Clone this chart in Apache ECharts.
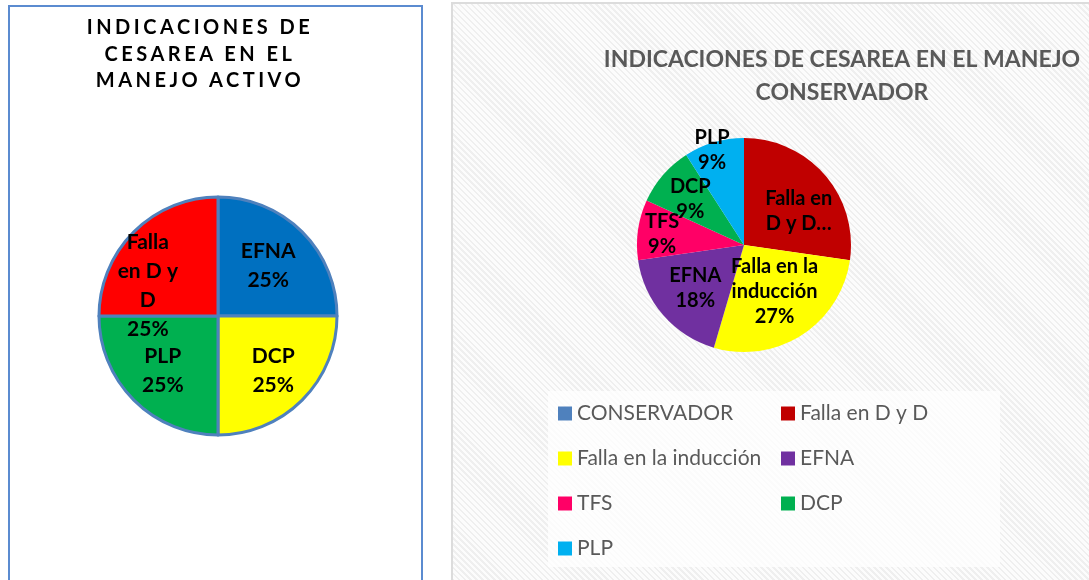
<!DOCTYPE html>
<html>
<head>
<meta charset="utf-8">
<script src="https://cdn.jsdelivr.net/npm/echarts@6/dist/echarts.min.js"></script>
<style>
html, body { margin: 0; padding: 0; background: #fff; }
#wrap { position: relative; width: 1089px; height: 580px; overflow: hidden; }
#panelL { position: absolute; left: 8px; top: 5px; width: 415px; height: 620px; box-sizing: border-box;
  border: 2px solid #5b8bd0; background: #fff; }
#panelR { position: absolute; left: 451px; top: 2px; width: 680px; height: 620px; box-sizing: border-box;
  border: 2px solid #dcdcdc;
  background: repeating-linear-gradient(45deg, #fcfcfc 0px, #fcfcfc 2.5px, #efefef 2.5px, #efefef 4.2px); }
#chartL { position: absolute; left: 0; top: 0; width: 440px; height: 580px; }
#chartR { position: absolute; left: 440px; top: 0; width: 649px; height: 580px; }
#titleL { position: absolute; left: 48px; top: 13px; width: 304px; text-align: center;
  font-family: Lato, sans-serif; font-weight: bold; font-size: 20px; line-height: 26.5px;
  letter-spacing: 3.5px; color: #000; }
</style>
</head>
<body>
<div id="wrap">
  <div id="panelL"></div>
  <div id="panelR"></div>
  <div id="chartL"></div>
  <div id="chartR"></div>
  <div id="titleL">INDICACIONES DE<br>CESAREA EN EL<br>MANEJO ACTIVO</div>
</div>
<script>
// manejo activo
var catL = ['EFNA', 'DCP', 'PLP', 'Falla en D y D'];
var valL = [1, 1, 1, 1];
var txtL = ['EFNA', 'DCP', 'PLP', 'Falla\nen D y\nD'];

// manejo conservador
var catR = ['CONSERVADOR', 'Falla en D y D', 'Falla en la inducción', 'EFNA', 'TFS', 'DCP', 'PLP'];
var valR = [0, 3, 3, 2, 1, 1, 1];
var txtR = ['', 'Falla en\nD y D…', 'Falla en la\ninducción', 'EFNA', 'TFS', 'DCP', 'PLP'];

var colL = ['#0070c0', '#ffff00', '#00b050', '#ff0000'];
var colR = ['#4f81bd', '#c00000', '#ffff00', '#7030a0', '#ff0066', '#00b050', '#00b0f0'];

// desplazamiento de etiquetas (como en excel)
var offL = [[6, -6], [11, 11], [-11, 11], [-26, 14]];
var offR = [[0, 0], [12, 3], [0, -1], [-6, 6], [-26, -3], [-11, -9], [-16, -41]];

var chartL = echarts.init(document.getElementById('chartL'));
chartL.setOption({
  animation: false,
  backgroundColor: 'transparent',
  series: [{
    type: 'pie',
    center: [218, 316],
    radius: 119,
    startAngle: 90,
    clockwise: true,
    data: catL.map(function (n, i) {
      return { name: n, value: valL[i], itemStyle: { color: colL[i] } };
    }),
    itemStyle: { borderColor: '#4f81bd', borderWidth: 3 },
    label: {
      show: true,
      position: 'inside',
      color: '#000',
      textBorderWidth: 0,
      fontFamily: 'Lato',
      fontWeight: 'bold',
      fontSize: 21,
      lineHeight: 29,
      formatter: function (p) {
        return txtL[p.dataIndex] + '\n' + Math.round(p.percent) + '%';
      }
    },
    labelLine: { show: false },
    labelLayout: function (p) {
      return { dx: offL[p.dataIndex][0], dy: offL[p.dataIndex][1] };
    },
    emphasis: { disabled: true }
  }]
});

var chartR = echarts.init(document.getElementById('chartR'));
chartR.setOption({
  animation: false,
  backgroundColor: 'transparent',
  title: {
    text: 'INDICACIONES DE CESAREA EN EL MANEJO\nCONSERVADOR',
    left: 402,
    top: 43,
    padding: 0,
    textAlign: 'center',
    textStyle: {
      color: '#595959',
      fontFamily: 'Lato',
      fontWeight: 'bold',
      fontSize: 23,
      lineHeight: 33
    }
  },
  legend: {
    data: catR,
    left: 108,
    top: 391,
    width: 450,
    orient: 'horizontal',
    selectedMode: false,
    icon: 'rect',
    itemWidth: 14,
    itemHeight: 14,
    itemGap: 14,
    padding: [7, 10, 3, 10],
    backgroundColor: 'rgba(255,255,255,0.75)',
    textStyle: {
      color: '#595959',
      fontFamily: 'Lato',
      fontSize: 21,
      width: 190,
      lineHeight: 31
    }
  },
  series: [{
    type: 'pie',
    center: [304, 245],
    radius: 107,
    startAngle: 90,
    clockwise: true,
    data: catR.map(function (n, i) {
      var d = { name: n, value: valR[i], itemStyle: { color: colR[i] } };
      if (valR[i] === 0) d.label = { show: false };
      return d;
    }),
    label: {
      show: true,
      position: 'inside',
      color: '#000',
      textBorderWidth: 0,
      fontFamily: 'Lato',
      fontWeight: 'bold',
      fontSize: 20,
      lineHeight: 25,
      formatter: function (p) {
        var t = txtR[p.dataIndex];
        if (t.indexOf('…') >= 0) return t;
        return t + '\n' + Math.round(p.percent) + '%';
      }
    },
    labelLine: { show: false },
    labelLayout: function (p) {
      return { dx: offR[p.dataIndex][0], dy: offR[p.dataIndex][1] };
    },
    emphasis: { disabled: true }
  }]
});
</script>
</body>
</html>
